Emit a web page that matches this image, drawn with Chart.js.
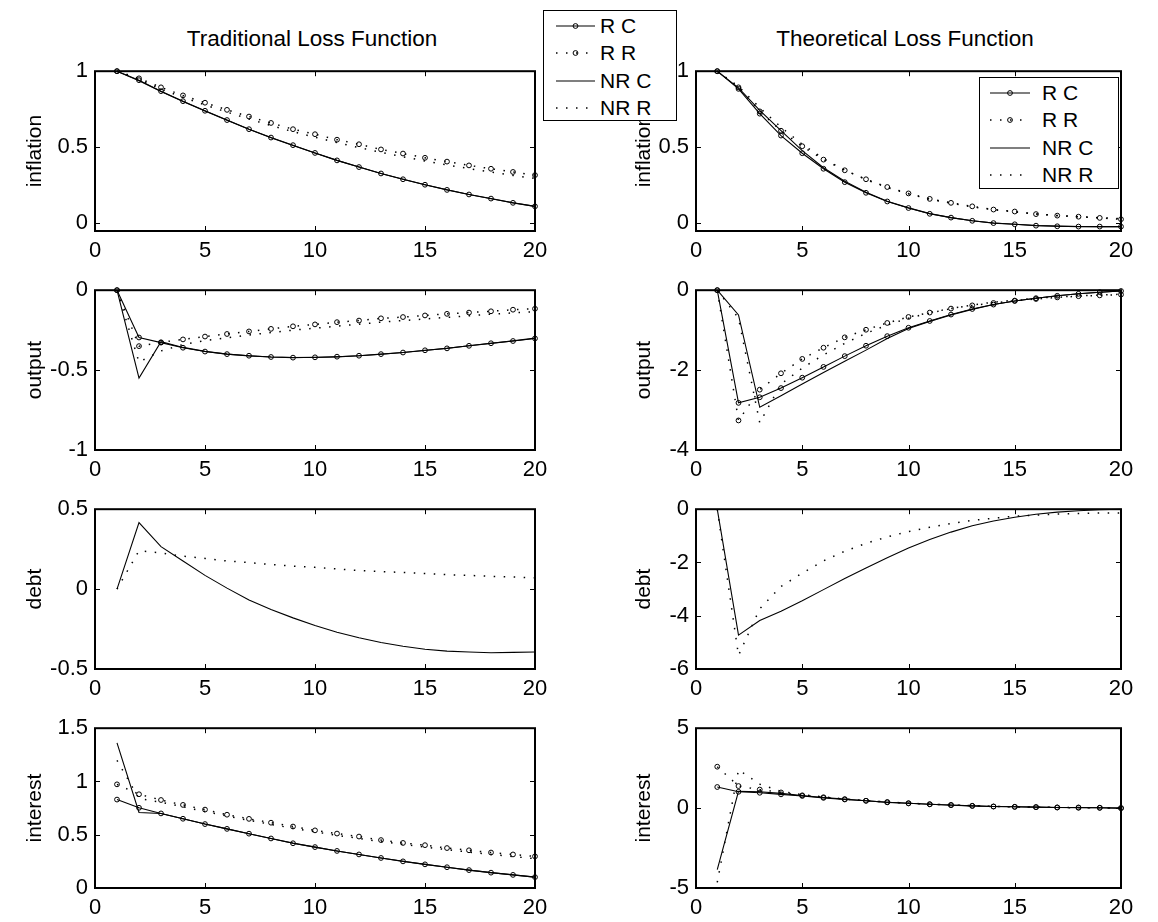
<!DOCTYPE html>
<html>
<head>
<meta charset="utf-8">
<script src="https://cdn.jsdelivr.net/npm/chart.js@4.4.1/dist/chart.umd.min.js"></script>
<style>
  body { margin: 0; background: #fff; }
  #figure { position: relative; width: 1158px; height: 922px; overflow: hidden; background: #fff;
            font-family: Arial, "Liberation Sans", Helvetica, sans-serif; color: #000; }
  #figure canvas { position: absolute; }
  .title { position: absolute; font-size: 22.5px; line-height: 26px; white-space: nowrap; transform: translateX(-50%); }
  .legend { position: absolute; background: #fff; border: 1px solid #000; box-sizing: border-box; z-index: 5; }
  .legend svg { position: absolute; }
  .legend span { position: absolute; font-size: 21px; line-height: 24px; white-space: nowrap; }
</style>
</head>
<body>
<div id="figure">
  <div class="title" style="left:312px; top:26px;">Traditional Loss Function</div>
  <div class="title" style="left:905px; top:26px;">Theoretical Loss Function</div>
</div>
<script>
// horizon (quarters after the shock)
const periods = [1, 2, 3, 4, 5, 6, 7, 8, 9, 10, 11, 12, 13, 14, 15, 16, 17, 18, 19, 20];
const seriesNames = ['R C', 'R R', 'NR C', 'NR R'];
const xTicks = [0, 5, 10, 15, 20];

// Traditional loss function
const tradInflRC  = [1.000, 0.941, 0.869, 0.803, 0.740, 0.679, 0.619, 0.564, 0.514, 0.463, 0.414, 0.370, 0.328, 0.290, 0.254, 0.220, 0.190, 0.163, 0.135, 0.112];
const tradInflRR  = [1.000, 0.953, 0.894, 0.841, 0.793, 0.746, 0.702, 0.660, 0.619, 0.586, 0.550, 0.520, 0.486, 0.459, 0.431, 0.406, 0.381, 0.359, 0.338, 0.317];
const tradInflNRC = [1.000, 0.938, 0.866, 0.801, 0.738, 0.677, 0.618, 0.563, 0.512, 0.462, 0.414, 0.370, 0.328, 0.290, 0.254, 0.221, 0.190, 0.162, 0.136, 0.112];
const tradInflNRR = [1.000, 0.945, 0.883, 0.828, 0.778, 0.731, 0.686, 0.643, 0.603, 0.566, 0.531, 0.498, 0.467, 0.438, 0.410, 0.384, 0.360, 0.337, 0.315, 0.295];

const tradOutRC  = [0, -0.296, -0.328, -0.360, -0.384, -0.400, -0.410, -0.418, -0.422, -0.420, -0.416, -0.410, -0.400, -0.390, -0.376, -0.364, -0.348, -0.332, -0.318, -0.302];
const tradOutRR  = [0, -0.350, -0.326, -0.308, -0.290, -0.274, -0.258, -0.242, -0.226, -0.214, -0.200, -0.190, -0.176, -0.168, -0.158, -0.148, -0.140, -0.132, -0.122, -0.116];
const tradOutNRC = [0, -0.550, -0.322, -0.358, -0.383, -0.400, -0.411, -0.418, -0.421, -0.421, -0.417, -0.410, -0.401, -0.390, -0.377, -0.363, -0.348, -0.333, -0.317, -0.300];
const tradOutNRR = [0, -0.450, -0.380, -0.340, -0.315, -0.298, -0.280, -0.265, -0.250, -0.238, -0.225, -0.213, -0.200, -0.190, -0.180, -0.170, -0.160, -0.150, -0.142, -0.134];

const tradDebtNRC = [0, 0.416, 0.266, 0.176, 0.086, 0.006, -0.068, -0.128, -0.180, -0.228, -0.270, -0.304, -0.334, -0.358, -0.376, -0.388, -0.394, -0.398, -0.396, -0.394];
const tradDebtNRR = [0, 0.240, 0.226, 0.206, 0.192, 0.176, 0.166, 0.154, 0.144, 0.136, 0.126, 0.116, 0.110, 0.104, 0.098, 0.090, 0.086, 0.080, 0.076, 0.070];

const tradIntRC  = [0.830, 0.753, 0.700, 0.650, 0.600, 0.555, 0.510, 0.465, 0.420, 0.384, 0.348, 0.315, 0.282, 0.250, 0.222, 0.195, 0.168, 0.144, 0.123, 0.102];
const tradIntRR  = [0.973, 0.880, 0.826, 0.780, 0.736, 0.688, 0.649, 0.613, 0.577, 0.541, 0.511, 0.483, 0.450, 0.423, 0.402, 0.375, 0.354, 0.333, 0.315, 0.297];
const tradIntNRC = [1.363, 0.709, 0.700, 0.650, 0.600, 0.555, 0.510, 0.465, 0.421, 0.384, 0.348, 0.315, 0.282, 0.251, 0.222, 0.195, 0.168, 0.144, 0.123, 0.102];
const tradIntNRR = [1.198, 0.840, 0.805, 0.762, 0.718, 0.675, 0.635, 0.597, 0.561, 0.527, 0.495, 0.465, 0.436, 0.409, 0.384, 0.360, 0.337, 0.315, 0.295, 0.276];

// Theoretical loss function
const theoInflRC  = [1.000, 0.884, 0.721, 0.577, 0.461, 0.359, 0.271, 0.201, 0.144, 0.101, 0.063, 0.038, 0.017, 0.002, -0.006, -0.015, -0.019, -0.021, -0.021, -0.021];
const theoInflRR  = [1.000, 0.894, 0.736, 0.609, 0.507, 0.419, 0.349, 0.290, 0.239, 0.197, 0.161, 0.135, 0.112, 0.091, 0.078, 0.061, 0.051, 0.044, 0.036, 0.027];
const theoInflNRC = [1.000, 0.890, 0.742, 0.610, 0.478, 0.366, 0.277, 0.204, 0.146, 0.102, 0.064, 0.038, 0.017, 0.003, -0.006, -0.014, -0.018, -0.020, -0.021, -0.021];
const theoInflNRR = [1.000, 0.900, 0.760, 0.632, 0.520, 0.425, 0.350, 0.288, 0.236, 0.194, 0.159, 0.132, 0.109, 0.090, 0.076, 0.062, 0.052, 0.044, 0.037, 0.031];

const theoOutRC  = [0, -2.82, -2.68, -2.45, -2.19, -1.92, -1.65, -1.39, -1.15, -0.94, -0.77, -0.61, -0.47, -0.36, -0.27, -0.20, -0.14, -0.09, -0.05, -0.02];
const theoOutRR  = [0, -3.26, -2.49, -2.08, -1.72, -1.44, -1.18, -0.99, -0.82, -0.67, -0.56, -0.46, -0.38, -0.32, -0.26, -0.22, -0.18, -0.15, -0.13, -0.11];
const theoOutNRC = [0, -0.62, -2.93, -2.64, -2.35, -2.06, -1.78, -1.50, -1.21, -0.96, -0.78, -0.62, -0.48, -0.36, -0.27, -0.20, -0.14, -0.09, -0.05, -0.02];
const theoOutNRR = [0, -0.70, -3.32, -2.35, -1.95, -1.62, -1.33, -1.08, -0.87, -0.70, -0.57, -0.46, -0.37, -0.30, -0.25, -0.20, -0.17, -0.14, -0.12, -0.10];

const theoDebtNRC = [0, -4.73, -4.18, -3.83, -3.44, -3.02, -2.60, -2.21, -1.82, -1.46, -1.14, -0.86, -0.62, -0.44, -0.30, -0.19, -0.11, -0.06, -0.02, 0.00];
const theoDebtNRR = [0, -5.49, -3.74, -2.90, -2.40, -1.94, -1.58, -1.28, -1.04, -0.84, -0.68, -0.54, -0.42, -0.34, -0.26, -0.22, -0.18, -0.16, -0.14, -0.14];

const theoIntRC  = [1.32, 1.02, 0.96, 0.86, 0.76, 0.64, 0.54, 0.46, 0.36, 0.30, 0.24, 0.18, 0.14, 0.10, 0.08, 0.06, 0.04, 0.04, 0.02, 0.00];
const theoIntRR  = [2.59, 1.38, 1.16, 0.98, 0.80, 0.68, 0.56, 0.46, 0.38, 0.30, 0.24, 0.20, 0.14, 0.10, 0.08, 0.06, 0.04, 0.02, 0.02, 0.00];
const theoIntNRC = [-3.85, 1.05, 1.02, 0.92, 0.78, 0.66, 0.56, 0.46, 0.37, 0.30, 0.24, 0.19, 0.14, 0.10, 0.08, 0.06, 0.04, 0.03, 0.02, 0.00];
const theoIntNRR = [-4.65, 2.40, 1.50, 1.05, 0.84, 0.70, 0.57, 0.47, 0.38, 0.31, 0.25, 0.20, 0.15, 0.11, 0.08, 0.06, 0.04, 0.03, 0.02, 0.00];

// y tick values per panel
const ticksInfl = [0, 0.5, 1];
const ticksTradOut = [-1, -0.5, 0];
const ticksTheoOut = [-4, -2, 0];
const ticksTradDebt = [-0.5, 0, 0.5];
const ticksTheoDebt = [-6, -4, -2, 0];
const ticksTradInt = [0, 0.5, 1, 1.5];
const ticksTheoInt = [-5, 0, 5];

const panels = [
  { row: 0, col: 0, label: 'inflation', yMin: -0.05, yMax: 1, yTicks: ticksInfl, series: [tradInflRC, tradInflRR, tradInflNRC, tradInflNRR] },
  { row: 0, col: 1, label: 'inflation', yMin: -0.05, yMax: 1, yTicks: ticksInfl, series: [theoInflRC, theoInflRR, theoInflNRC, theoInflNRR] },
  { row: 1, col: 0, label: 'output', yMin: -1, yMax: 0, yTicks: ticksTradOut, series: [tradOutRC, tradOutRR, tradOutNRC, tradOutNRR] },
  { row: 1, col: 1, label: 'output', yMin: -4, yMax: 0, yTicks: ticksTheoOut, series: [theoOutRC, theoOutRR, theoOutNRC, theoOutNRR] },
  { row: 2, col: 0, label: 'debt', yMin: -0.5, yMax: 0.5, yTicks: ticksTradDebt, series: [null, null, tradDebtNRC, tradDebtNRR] },
  { row: 2, col: 1, label: 'debt', yMin: -6, yMax: 0, yTicks: ticksTheoDebt, series: [null, null, theoDebtNRC, theoDebtNRR] },
  { row: 3, col: 0, label: 'interest', yMin: 0, yMax: 1.5, yTicks: ticksTradInt, series: [tradIntRC, tradIntRR, tradIntNRC, tradIntNRR] },
  { row: 3, col: 1, label: 'interest', yMin: -5, yMax: 5, yTicks: ticksTheoInt, series: [theoIntRC, theoIntRR, theoIntNRC, theoIntNRR] },
];

// line style per series: solid/dotted, with or without circle markers
const DOT = [1.5, 8.5];
const lineStyles = [
  { dash: [], marker: true },
  { dash: DOT, marker: true },
  { dash: [], marker: false },
  { dash: DOT, marker: false },
];

// subplot geometry
const layout = {
  plotLeft: [95, 696],
  plotRight: [535, 1121],
  plotTop: [65, 284, 503, 722],
  plotH: 166,
  canvasLeft: [0, 600],
  padTop: 14,
  axisH: 40,
  padRight: [23, 30],
  labelPad: [23, 31.6],
  tickPad: 7,
};

const FONT = 'Arial, "Liberation Sans", Helvetica, sans-serif';
Chart.defaults.font.family = FONT;
Chart.defaults.font.size = 22;
Chart.defaults.color = '#000';

// MATLAB-like axes box with inward tick marks on all four sides
const boxTicks = {
  id: 'boxTicks',
  afterDatasetsDraw(chart) {
    const { ctx, chartArea: a, scales } = chart;
    const len = 5;
    ctx.save();
    ctx.strokeStyle = '#000';
    ctx.lineWidth = 1;
    ctx.setLineDash([]);
    ctx.beginPath();
    scales.x.ticks.forEach(t => {
      const px = Math.round(scales.x.getPixelForValue(t.value)) + 0.5;
      ctx.moveTo(px, a.bottom); ctx.lineTo(px, a.bottom - len);
      ctx.moveTo(px, a.top); ctx.lineTo(px, a.top + len);
    });
    scales.y.ticks.forEach(t => {
      const py = Math.round(scales.y.getPixelForValue(t.value)) + 0.5;
      ctx.moveTo(a.left, py); ctx.lineTo(a.left + len, py);
      ctx.moveTo(a.right, py); ctx.lineTo(a.right - len, py);
    });
    ctx.stroke();
    ctx.lineWidth = 2;
    ctx.strokeRect(a.left, a.top, a.right - a.left, a.bottom - a.top);
    ctx.restore();
  }
};

function makeDataset(values, idx) {
  const st = lineStyles[idx];
  return {
    label: seriesNames[idx],
    data: periods.map((t, i) => ({ x: t, y: values[i] })),
    borderColor: '#000',
    borderWidth: st.dash.length ? 1.5 : 1.1,
    borderDash: st.dash,
    pointRadius: st.marker ? 2.4 : 0,
    pointBorderWidth: 1,
    pointBorderColor: '#000',
    pointBackgroundColor: 'rgba(0,0,0,0)',
    pointHoverRadius: 0,
    tension: 0,
    fill: false,
    clip: false,
  };
}

const figure = document.getElementById('figure');

panels.forEach(p => {
  const cv = document.createElement('canvas');
  const left = layout.canvasLeft[p.col];
  const yAxisW = layout.plotLeft[p.col] - left;
  const plotW = layout.plotRight[p.col] - layout.plotLeft[p.col];
  const w = yAxisW + plotW + layout.padRight[p.col];
  const h = layout.padTop + layout.plotH + layout.axisH;
  cv.width = w; cv.height = h;
  cv.style.width = w + 'px'; cv.style.height = h + 'px';
  cv.style.left = left + 'px';
  cv.style.top = (layout.plotTop[p.row] - layout.padTop) + 'px';
  figure.appendChild(cv);

  const datasets = [];
  p.series.forEach((vals, i) => { if (vals) datasets.push(makeDataset(vals, i)); });

  new Chart(cv, {
    type: 'line',
    data: { datasets },
    options: {
      responsive: false,
      animation: false,
      devicePixelRatio: 1,
      events: [],
      layout: { padding: { top: layout.padTop, right: layout.padRight[p.col], bottom: 0, left: 0 } },
      plugins: { legend: { display: false }, tooltip: { enabled: false } },
      scales: {
        x: {
          type: 'linear', min: 0, max: 20,
          grid: { display: false, drawTicks: false },
          border: { display: false },
          ticks: { padding: 7, maxRotation: 0, autoSkip: false, callback: v => String(v) },
          afterBuildTicks: s => { s.ticks = xTicks.map(v => ({ value: v })); },
          afterFit: s => { s.height = layout.axisH; },
        },
        y: {
          type: 'linear', min: p.yMin, max: p.yMax,
          grid: { display: false, drawTicks: false },
          border: { display: false },
          ticks: { padding: layout.tickPad, autoSkip: false, callback: v => String(v) },
          afterBuildTicks: s => { s.ticks = p.yTicks.map(v => ({ value: v })); },
          afterFit: s => { s.width = yAxisW; },
          title: { display: true, text: p.label, font: { size: 21 }, padding: { top: layout.labelPad[p.col], bottom: 0 } },
        },
      },
    },
    plugins: [boxTicks],
  });
});

// legends (the first one floats over the gap between the top panels)
const legends = [
  { left: 543, top: 10, width: 134, height: 111, lineFrom: 13, lineTo: 52, textAt: 57 },
  { left: 979, top: 77, width: 140, height: 112, lineFrom: 11, lineTo: 51, textAt: 63 },
];
const legendRows = [15.5, 43, 70.5, 98];

legends.forEach(lg => {
  const box = document.createElement('div');
  box.className = 'legend';
  Object.assign(box.style, { left: lg.left + 'px', top: lg.top + 'px', width: lg.width + 'px', height: lg.height + 'px' });
  seriesNames.forEach((name, i) => {
    const st = lineStyles[i];
    const cy = legendRows[i];
    const len = lg.lineTo - lg.lineFrom;
    const svg = document.createElementNS('http://www.w3.org/2000/svg', 'svg');
    svg.setAttribute('width', len);
    svg.setAttribute('height', 10);
    svg.style.left = (lg.lineFrom - 1) + 'px';
    svg.style.top = (cy - 5 - 1) + 'px';
    const dash = st.dash.length ? `stroke-dasharray="${st.dash.join(' ')}"` : '';
    const sw = st.dash.length ? 1.5 : 1.1;
    svg.innerHTML = `<line x1="0" y1="5" x2="${len}" y2="5" stroke="#000" stroke-width="${sw}" ${dash}/>` +
      (st.marker ? `<circle cx="${len / 2}" cy="5" r="2.4" fill="none" stroke="#000" stroke-width="1"/>` : '');
    box.appendChild(svg);
    const span = document.createElement('span');
    span.textContent = name;
    span.style.left = (lg.textAt - 1) + 'px';
    span.style.top = (cy - 11.75 - 1) + 'px';
    box.appendChild(span);
  });
  figure.appendChild(box);
});
</script>
</body>
</html>
